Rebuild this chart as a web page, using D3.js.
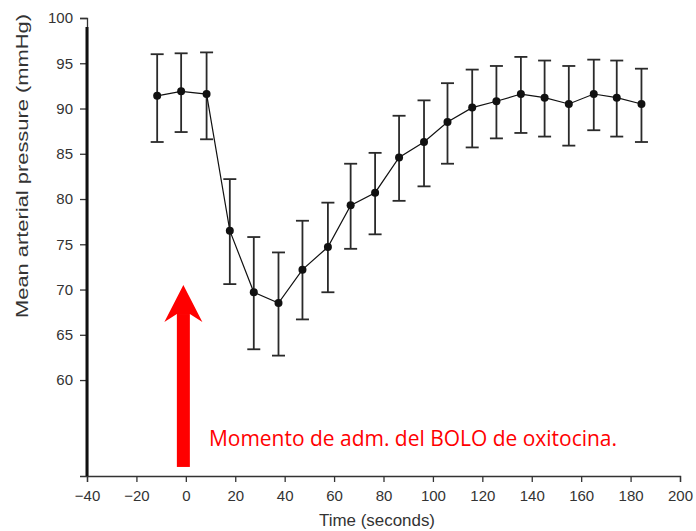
<!DOCTYPE html>
<html lang="es">
<head>
  <meta charset="UTF-8">
  <title>Presión arterial media</title>
  <script src="https://cdn.jsdelivr.net/npm/d3@7"></script>
  <style>
    body { margin: 0; background: #fff; }
    #grafica text { font-family: "Liberation Sans", Arial, sans-serif; }
  </style>
</head>
<body>
<div id="grafica"></div>
<script>
// datos
tiempo   = [-11.6, -1.9, 8.4, 17.8, 27.5, 37.5, 47.2, 57.5, 66.7, 76.6, 86.3, 96.4, 105.9, 115.9, 125.7, 135.6, 145.2, 155, 165.1, 174.4, 184.4]
media    = [91.4, 91.9, 91.6, 76.5, 69.7, 68.5, 72.2, 74.7, 79.3, 80.7, 84.6, 86.3, 88.5, 90.1, 90.8, 91.6, 91.2, 90.5, 91.6, 91.2, 90.5]
superior = [96.0, 96.1, 96.2, 82.2, 75.8, 74.1, 77.6, 79.6, 83.9, 85.1, 89.2, 90.9, 92.8, 94.3, 94.7, 95.7, 95.3, 94.7, 95.4, 95.3, 94.4]
inferior = [86.3, 87.4, 86.6, 70.6, 63.4, 62.7, 66.7, 69.7, 74.5, 76.1, 79.8, 81.4, 83.9, 85.7, 86.7, 87.3, 86.9, 85.9, 87.6, 86.9, 86.3]
ticksX = [-40, -20, 0, 20, 40, 60, 80, 100, 120, 140, 160, 180, 200]
ticksY = [60, 65, 70, 75, 80, 85, 90, 95, 100]
flechaT = -1
flechaDesde = 50.4
flechaHasta = 70.5
nota = 'Momento de adm. del BOLO de oxitocina.'

data = tiempo.map((t, i) => ({t: t, m: media[i], hi: superior[i], lo: inferior[i]}))

ancho_total = 696
alto_total = 531

svg = d3.select('#grafica')
  .append('svg')
  .attr('width', ancho_total)
  .attr('height', alto_total)

x = d3.scaleLinear().domain([-40, 200]).range([87, 680])
y = d3.scaleLinear().domain([49.4, 100]).range([476, 18])

// ejes
xAxisCall = d3.axisBottom(x)
  .tickValues(ticksX)
  .tickSize(6)
  .tickSizeOuter(6)
  .tickPadding(8)
gx = svg.append('g')
  .attr('transform', 'translate(0,476)')
  .call(xAxisCall)
gx.selectAll('text').attr('font-size', 15).attr('fill', '#333')
gx.selectAll('path, line').attr('stroke', '#333').attr('stroke-width', 1.3)

yAxisCall = d3.axisLeft(y)
  .tickValues(ticksY)
  .tickSize(7)
  .tickSizeOuter(7)
  .tickPadding(7)
gy = svg.append('g')
  .attr('transform', 'translate(87,0)')
  .call(yAxisCall)
gy.selectAll('text').attr('font-size', 15).attr('fill', '#333')
gy.selectAll('path, line').attr('stroke', '#333').attr('stroke-width', 1.3)

// linea gruesa del eje y
svg.append('line')
  .attr('x1', 87).attr('x2', 87)
  .attr('y1', y(99)).attr('y2', y(49.4))
  .attr('stroke', '#111')
  .attr('stroke-width', 3)

// titulos
svg.append('text')
  .attr('x', 377)
  .attr('y', 526)
  .attr('text-anchor', 'middle')
  .attr('font-size', 16)
  .attr('fill', '#333')
  .attr('textLength', 116)
  .attr('lengthAdjust', 'spacingAndGlyphs')
  .text('Time (seconds)')

svg.append('text')
  .attr('transform', 'translate(28,166) rotate(-90)')
  .attr('text-anchor', 'middle')
  .attr('font-size', 16)
  .attr('fill', '#333')
  .attr('textLength', 304)
  .attr('lengthAdjust', 'spacingAndGlyphs')
  .text('Mean arterial pressure (mmHg)')

// barras de error
barras = svg.append('g')
barras.selectAll('line.v')
  .data(data)
  .enter()
  .append('line')
    .attr('class', 'v')
    .attr('x1', d => x(d.t)).attr('x2', d => x(d.t))
    .attr('y1', d => y(d.hi)).attr('y2', d => y(d.lo))
    .attr('stroke', '#2a2a2a')
    .attr('stroke-width', 1.8)
;['hi', 'lo'].forEach(k => {
  barras.selectAll('line.c' + k)
    .data(data)
    .enter()
    .append('line')
      .attr('class', 'c' + k)
      .attr('x1', d => x(d.t) - 6.5).attr('x2', d => x(d.t) + 6.5)
      .attr('y1', d => y(d[k])).attr('y2', d => y(d[k]))
      .attr('stroke', '#2a2a2a')
      .attr('stroke-width', 1.8)
})

// linea de medias
linea = d3.line().x(d => x(d.t)).y(d => y(d.m))
svg.append('path')
  .datum(data)
  .attr('d', linea)
  .attr('fill', 'none')
  .attr('stroke', '#111')
  .attr('stroke-width', 1.2)

svg.selectAll('circle')
  .data(data)
  .enter()
  .append('circle')
    .attr('cx', d => x(d.t))
    .attr('cy', d => y(d.m))
    .attr('r', 4)
    .attr('fill', '#111')

// flecha roja
cx = x(flechaT)
yTop = y(flechaHasta)
yBase = yTop + 37
svg.append('rect')
  .attr('x', cx - 6.5)
  .attr('y', yBase - 8)
  .attr('width', 13)
  .attr('height', y(flechaDesde) - yBase + 8)
  .attr('fill', '#ff0000')
svg.append('path')
  .attr('d', `M${cx},${yTop} L${cx + 19},${yBase} L${cx + 6.5},${yBase - 8} L${cx - 6.5},${yBase - 8} L${cx - 19},${yBase} Z`)
  .attr('fill', '#ff0000')

svg.append('text')
  .attr('x', 209)
  .attr('y', 446)
  .attr('fill', '#ff0000')
  .attr('font-size', 21)
  .style('font-family', '"Open Sans", "Noto Sans", sans-serif')
  .attr('textLength', 408)
  .attr('lengthAdjust', 'spacingAndGlyphs')
  .text(nota)
</script>
</body>
</html>
